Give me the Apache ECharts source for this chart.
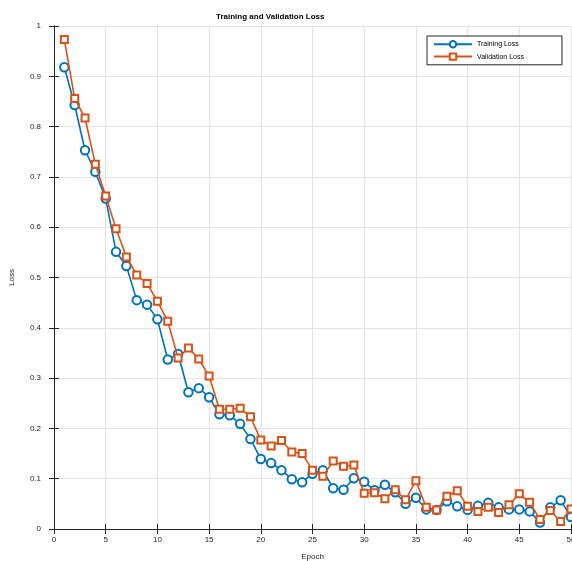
<!DOCTYPE html>
<html>
<head>
<meta charset="utf-8">
<script src="https://cdn.jsdelivr.net/npm/echarts@6/dist/echarts.min.js"></script>
<style>html,body{margin:0;padding:0;background:#fff}#c{width:572px;height:561px}</style>
</head>
<body>
<div id="c"></div>
<script>
const epochs = Array.from({length: 50}, (_, i) => i + 1);
const trainingLoss = [0.918,0.843,0.753,0.710,0.657,0.551,0.523,0.455,0.446,0.417,
  0.337,0.348,0.272,0.280,0.262,0.228,0.226,0.209,0.179,0.139,
  0.131,0.117,0.099,0.093,0.110,0.117,0.081,0.078,0.101,0.094,
  0.077,0.088,0.073,0.050,0.062,0.039,0.038,0.055,0.045,0.038,
  0.046,0.052,0.043,0.039,0.039,0.035,0.013,0.043,0.057,0.024];
const validationLoss = [0.973,0.856,0.817,0.725,0.662,0.597,0.541,0.505,0.488,0.453,
  0.413,0.340,0.360,0.338,0.304,0.238,0.238,0.240,0.223,0.177,
  0.165,0.176,0.153,0.150,0.117,0.105,0.135,0.125,0.127,0.071,
  0.072,0.060,0.078,0.058,0.096,0.043,0.038,0.065,0.076,0.045,
  0.035,0.043,0.033,0.048,0.070,0.053,0.019,0.037,0.015,0.040];
const xTicks = [0,5,10,15,20,25,30,35,40,45,50];
const yTicks = [0,0.1,0.2,0.3,0.4,0.5,0.6,0.7,0.8,0.9,1];

const FONT = 'Liberation Sans, Arial, sans-serif';
const AX = '#262626';
const chart = echarts.init(document.getElementById('c'), null, {renderer: 'canvas'});
const boxAxis = {
  axisLine: {show: true, lineStyle: {color: AX, width: 1}},
  axisTick: {show: true, inside: true, length: 5, lineStyle: {color: AX}},
  axisLabel: {show: false},
  splitLine: {show: false}
};
chart.setOption({
  animation: false,
  backgroundColor: '#fff',
  title: {
    text: 'Training and Validation Loss',
    left: 211, top: 8,
    textStyle: {fontFamily: FONT, fontSize: 8, fontWeight: 'bold', color: '#000'}
  },
  legend: {
    orient: 'vertical',
    left: 427, top: 36,
    padding: [4, 38, 4, 6],
    itemGap: 4,
    itemWidth: 38, itemHeight: 8,
    borderColor: '#262626', borderWidth: 1,
    backgroundColor: '#fff',
    textStyle: {fontFamily: FONT, fontSize: 7, color: '#000'},
    data: ['Training Loss', 'Validation Loss']
  },
  grid: {left: 54, right: 1, top: 26, bottom: 32, containLabel: false, outerBoundsMode: 'none'},
  xAxis: [{
    type: 'value', min: 0, max: 50, interval: 5,
    name: 'Epoch', nameLocation: 'middle', nameGap: 24,
    nameTextStyle: {fontFamily: FONT, fontSize: 8, color: AX},
    axisLine: {show: true, lineStyle: {color: AX}},
    axisTick: {show: true, inside: true, length: 5, lineStyle: {color: AX}},
    axisLabel: {fontFamily: FONT, fontSize: 8, color: AX, margin: 7,
      formatter: v => xTicks.includes(v) ? String(v) : ''},
    splitLine: {show: true, lineStyle: {color: '#e3e3e3', width: 1}}
  }, Object.assign({type: 'value', min: 0, max: 50, interval: 5, position: 'top'}, boxAxis)],
  yAxis: [{
    type: 'value', min: 0, max: 1, interval: 0.1,
    name: 'Loss', nameLocation: 'middle', nameGap: 38, nameRotate: 90,
    nameTextStyle: {fontFamily: FONT, fontSize: 8, color: AX},
    axisLine: {show: true, lineStyle: {color: AX}},
    axisTick: {show: true, inside: true, length: 5, lineStyle: {color: AX}},
    axisLabel: {fontFamily: FONT, fontSize: 8, color: AX, margin: 13, padding: [0, 0, 6, 0],
      formatter: v => { const t = yTicks.find(y => Math.abs(y - v) < 1e-6); return t === undefined ? '' : String(t); }},
    splitLine: {show: true, lineStyle: {color: '#e3e3e3', width: 1}}
  }, Object.assign({type: 'value', min: 0, max: 1, interval: 0.1, position: 'right'}, boxAxis)],
  series: [{
    name: 'Training Loss', type: 'line',
    data: epochs.map((e, i) => [e, trainingLoss[i]]),
    symbol: 'emptyCircle', symbolSize: 8.5,
    lineStyle: {color: '#0072BD', width: 1.6},
    itemStyle: {color: '#0072BD', borderColor: '#0072BD', borderWidth: 1.6},
    z: 3
  }, {
    name: 'Validation Loss', type: 'line',
    data: epochs.map((e, i) => [e, validationLoss[i]]),
    symbol: 'emptyRect', symbolSize: 7,
    lineStyle: {color: '#D95319', width: 1.6},
    itemStyle: {color: '#D95319', borderColor: '#D95319', borderWidth: 1.6},
    z: 4
  }]
});
</script>
</body>
</html>
